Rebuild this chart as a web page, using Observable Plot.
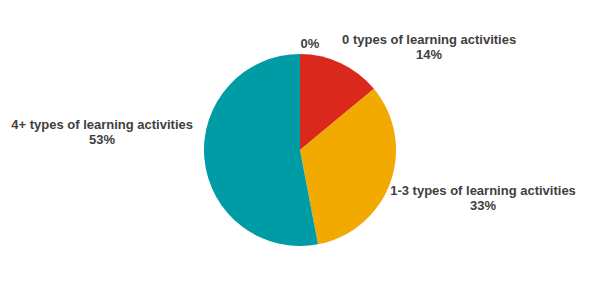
<!DOCTYPE html>
<html>
<head>
<meta charset="utf-8">
<script src="https://cdn.jsdelivr.net/npm/d3@7"></script>
<script src="https://cdn.jsdelivr.net/npm/@observablehq/plot@0.6"></script>
<style>
  html, body { margin: 0; padding: 0; background: #ffffff; }
  #chart { width: 599px; height: 299px; }
</style>
</head>
<body>
<div id="chart"></div>
<script>
// ---- data ----
const categories = ["0 types of learning activities", "1-3 types of learning activities", "4+ types of learning activities", ""];
const shares = [14, 33, 53, 0];
const colors = ["#da291c", "#f2a900", "#009ca6", "#cccccc"];

// ---- layout ----
const W = 599, H = 299;
const cx = 300, cy = 150, R = 96, labelR = 107;
const font = "bold 13px 'Liberation Sans', Arial, sans-serif";
const labelNudge = {
  "0 types of learning activities": [-4, -7],
  "1-3 types of learning activities": [-11, 11],
  "4+ types of learning activities": [-1, -28.5],
  "": [0, 0]
};

const rows = categories.map((c, i) => ({category: c, share: shares[i]}));
const arcs = d3.pie().sort(null).value(d => d.share)(rows);
const color = Plot.scale({color: {type: "ordinal", domain: categories, range: colors}});

const ctx = document.createElement("canvas").getContext("2d");
ctx.font = font;

const labels = arcs.map(a => {
  const mid = (a.startAngle + a.endAngle) / 2;
  const px = cx + labelR * Math.sin(mid);
  const py = cy - labelR * Math.cos(mid);
  const lines = a.data.category ? [a.data.category, a.data.share + "%"] : [a.data.share + "%"];
  const w = d3.max(lines, l => ctx.measureText(l).width);
  const side = Math.sin(mid) >= -1e-9 ? 1 : -1;
  const [dx, dy] = labelNudge[a.data.category];
  return {text: lines.join("\n"), x: px + dx + side * w / 2, y: py + dy};
});

const pieMark = (index, scales) => {
  const g = d3.create("svg:g")
    .attr("transform", `translate(${scales.x(cx)},${scales.y(cy)})`);
  const arcGen = d3.arc().innerRadius(0).outerRadius(scales.x(cx + R) - scales.x(cx));
  g.selectAll("path")
    .data(arcs.filter(a => a.data.share > 0))
    .join("path")
    .attr("d", arcGen)
    .attr("fill", d => color.apply(d.data.category));
  return g.node();
};

const chart = Plot.plot({
  width: W,
  height: H,
  margin: 0,
  x: {domain: [0, W], range: [0, W], axis: null},
  y: {domain: [0, H], range: [0, H], axis: null},
  style: {background: "#ffffff"},
  marks: [
    pieMark,
    Plot.text(labels, {
      x: "x", y: "y", text: "text",
      textAnchor: "middle",
      lineAnchor: "middle",
      lineHeight: 1.15,
      fontSize: 13,
      fontWeight: "bold",
      fontFamily: "'Liberation Sans', Arial, sans-serif",
      fill: "#404040"
    })
  ]
});
document.getElementById("chart").appendChild(chart);
</script>
</body>
</html>
